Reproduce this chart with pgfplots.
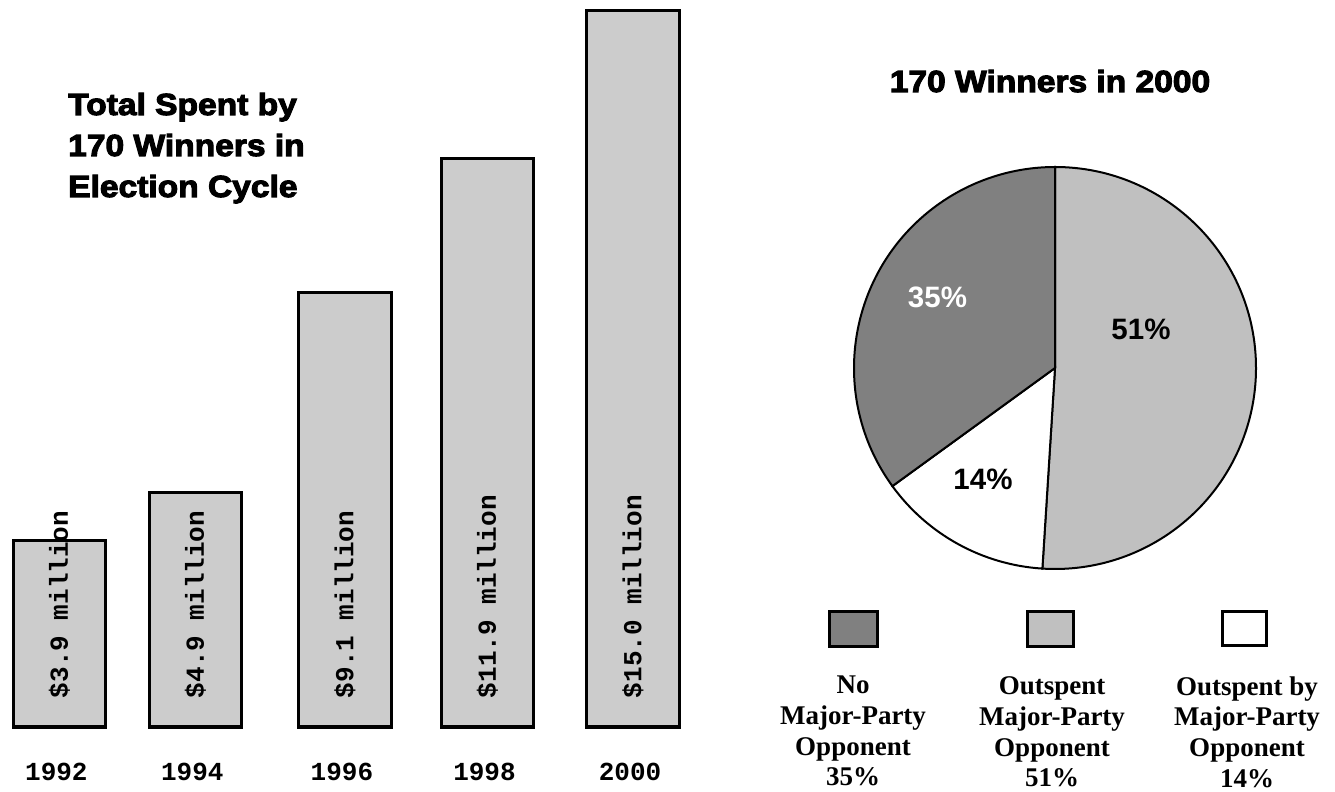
\documentclass[border=0pt]{standalone}
\usepackage{pgfplots}
\pgfplotsset{compat=1.18}
\usepackage{fontspec}
\newfontfamily\monofam{Liberation Mono}
\newfontfamily\heavyfam{Liberation Sans}[FakeStretch=1.1, BoldFeatures={FakeBold=3.5}]
\newfontfamily\sansfam{Liberation Sans}
\newfontfamily\seriffam{Liberation Serif}
\definecolor{barfill}{HTML}{CCCCCC}
\definecolor{piedark}{HTML}{808080}
\definecolor{pielight}{HTML}{C0C0C0}
\newcommand{\barfont}{\monofam\bfseries\fontsize{26bp}{26bp}\selectfont}
\newcommand{\heavyfont}{\heavyfam\bfseries\fontsize{30.5bp}{41bp}\selectfont}
\newcommand{\pctfont}{\sansfam\bfseries\fontsize{29.5bp}{30bp}\selectfont}
\newcommand{\legfont}{\seriffam\bfseries\fontsize{27bp}{30bp}\selectfont}
\begin{document}
\begin{tikzpicture}[x=1bp,y=1bp]
\path[use as bounding box] (0bp,0bp) rectangle (1335bp,792bp);
% ---------------- bar chart ----------------
\begin{axis}[at={(0bp,65bp)}, anchor=south west, scale only axis,
  width=700bp, height=727bp,
  xmin=-0.4142, xmax=4.467, ymin=0, ymax=15.21,
  ybar, bar width=0.645,
  axis line style={draw=none}, ytick=\empty,
  xtick={0,0.948,1.991,2.985,4},
  xticklabels={1992,1994,1996,1998,2000},
  major tick length=0pt, tick style={draw=none},
  xticklabel style={font=\barfont, anchor=base, yshift=-53bp, xshift=-3bp},
  clip=false]
\addplot[fill=barfill, draw=black, line width=3bp]
  coordinates {(0,3.9) (0.948,4.9) (1.991,9.1) (2.985,11.9) (4,15.0)};
\node[rotate=90, anchor=west, inner sep=0pt, font=\barfont] at (axis cs:0,0.6) {\$3.9 million};
\node[rotate=90, anchor=west, inner sep=0pt, font=\barfont] at (axis cs:0.948,0.6) {\$4.9 million};
\node[rotate=90, anchor=west, inner sep=0pt, font=\barfont] at (axis cs:1.991,0.6) {\$9.1 million};
\node[rotate=90, anchor=west, inner sep=0pt, font=\barfont] at (axis cs:2.985,0.6) {\$11.9 million};
\node[rotate=90, anchor=west, inner sep=0pt, font=\barfont] at (axis cs:4,0.6) {\$15.0 million};
\end{axis}
% title of bar chart
\node[anchor=base west, inner sep=0pt, font=\heavyfont] at (68bp,677bp) {Total Spent by};
\node[anchor=base west, inner sep=0pt, font=\heavyfont] at (68bp,636bp) {170 Winners in};
\node[anchor=base west, inner sep=0pt, font=\heavyfont] at (68bp,595bp) {Election Cycle};
% ---------------- pie chart ----------------
\begin{axis}[at={(854bp,223bp)}, anchor=south west, scale only axis,
  width=402bp, height=402bp, xmin=-1, xmax=1, ymin=-1, ymax=1,
  hide axis, clip=false]
\filldraw[fill=pielight, draw=black, line width=2bp]
  (axis cs:0,0) -- ++(90:201bp) arc[start angle=90, delta angle={-3.6*51}, radius=201bp] -- cycle;
\filldraw[fill=white, draw=black, line width=2bp]
  (axis cs:0,0) -- ++({90-3.6*51}:201bp) arc[start angle={90-3.6*51}, delta angle={-3.6*14}, radius=201bp] -- cycle;
\filldraw[fill=piedark, draw=black, line width=2bp]
  (axis cs:0,0) -- ++({90-3.6*65}:201bp) arc[start angle={90-3.6*65}, delta angle={-3.6*35}, radius=201bp] -- cycle;
\end{axis}
\node[anchor=base, inner sep=0pt, font=\heavyfont] at (1050bp,700bp) {170 Winners in 2000};
\node[anchor=base, inner sep=0pt, font=\pctfont, text=white] at (937.5bp,484bp) {35\%};
\node[anchor=base, inner sep=0pt, font=\pctfont] at (1141bp,452bp) {51\%};
\node[anchor=base, inner sep=0pt, font=\pctfont] at (983bp,302bp) {14\%};
% ---------------- legend ----------------
\draw[fill=piedark, line width=3bp] (829bp,145bp) rectangle (877bp,180bp);
\draw[fill=pielight, line width=3bp] (1027bp,145bp) rectangle (1073bp,180bp);
\draw[fill=white, line width=3bp] (1222bp,146bp) rectangle (1266bp,180bp);
\begin{scope}[every node/.style={anchor=base, inner sep=0pt, font=\legfont}]
\node at (853bp,98bp) {No};
\node at (853bp,67.5bp) {Major-Party};
\node at (853bp,37bp) {Opponent};
\node at (853bp,6.5bp) {35\%};
\node at (1052bp,97bp) {Outspent};
\node at (1052bp,66.5bp) {Major-Party};
\node at (1052bp,36bp) {Opponent};
\node at (1052bp,5.5bp) {51\%};
\node at (1247bp,96.5bp) {Outspent by};
\node at (1247bp,66bp) {Major-Party};
\node at (1247bp,35.5bp) {Opponent};
\node at (1247bp,5bp) {14\%};
\end{scope}
\end{tikzpicture}
\end{document}
